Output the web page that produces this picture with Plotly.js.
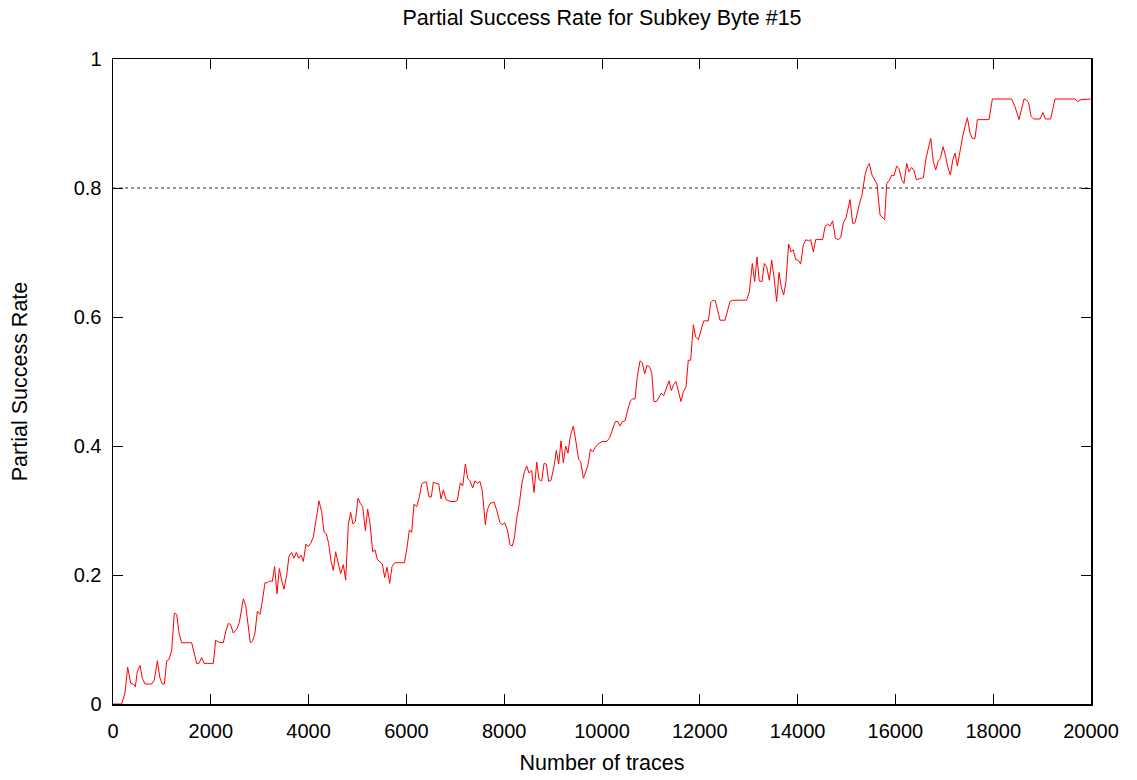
<!DOCTYPE html>
<html>
<head>
<meta charset="utf-8">
<script src="https://cdn.plot.ly/plotly-3.0.1.min.js"></script>
<style>html,body{margin:0;padding:0;background:#fff;}#chart{width:1137px;height:780px;}</style>
</head>
<body>
<div id="chart"></div>
<script>
const chartTitle = "Partial Success Rate for Subkey Byte #15";
const xTitle = "Number of traces";
const yTitle = "Partial Success Rate";
const threshold = 0.8;

const traces = [
0,177,245,300,362,415,457,497,552,600,654,791,845,907,961,1009,1050,1098,1145,1200,1254,1302,1350,1404,1609,1711,1759,1813,1861,2052,2100,2154,2256,2304,2358,2406,2460,2529,2583,2665,2713,2768,2808,2856,2904,2952,3006,3054,3108,3156,3211,
3258,3306,3354,3401,3449,3497,3552,3599,3654,3701,3749,3797,3845,3892,3947,3994,4042,4097,4151,4213,4267,4315,4362,4410,4458,4506,4553,4608,4656,4710,4758,4812,4860,4908,4956,5010,5058,5106,5161,5208,5256,5310,5358,5406,5460,5508,5556,5604,5658,5706,5760,5959,6006,6061,6108,6156,6211,6258,6313,6360,6408,6463,6510,6551,
6606,6660,6708,6755,6810,6892,6994,7042,7103,7151,7206,7253,7301,7356,7403,7451,7506,7553,7614,7655,7710,7792,7846,7914,7962,8010,8065,8119,8167,8208,8256,8310,8358,8413,8460,8508,8563,8610,8665,8712,8767,8815,8862,8910,8957,9019,9066,9114,9162,9209,9257,9305,9353,9414,9462,9523,9564,9619,9667,9721,9762,9810,9857,
9905,10001,10097,10152,10213,10274,10322,10369,10417,10471,10526,10580,10628,10675,10723,10778,10825,10873,10920,10968,11016,11063,11118,11166,11213,11261,11315,11370,11418,11465,11513,11568,11615,11663,11718,11765,11813,11868,11915,11970,12025,12080,12175,12223,12271,12318,12366,12414,12516,12564,12618,12673,12959,13013,
13074,13122,13170,13217,13272,13320,13367,13422,13470,13517,13572,13620,13667,13715,13763,13817,13865,13913,13960,14015,14063,14117,14172,14220,14267,14322,14370,14513,14561,14615,14663,14717,14772,14833,14881,14936,14991,15072,15127,15174,15222,15270,15317,15379,15426,15467,15522,15569,15624,15686,15733,15781,15822,15876,15924,15972,16026,16074,16129,16176,16231,16278,16333,16381,16428,
16497,16571,16626,16674,16722,16776,16824,16879,16920,16974,17022,17070,17124,17172,17219,17267,17322,17376,17424,17472,17526,17574,17628,17676,17914,17983,18379,18446,18528,18583,18630,18685,18726,18774,18829,18957,19019,19066,19175,19264,19673,19728,19795,20000
];

const successRate = [
0,0,0.017,0.057,0.032,0.031,0.027,0.05,0.06,0.04,0.031,0.031,0.037,0.067,0.04,0.031,0.031,0.067,0.069,0.083,0.141,0.139,0.11,0.095,0.095,0.063,0.063,0.072,0.063,0.063,0.099,0.096,0.095,0.112,0.125,0.123,0.11,0.116,0.126,0.163,0.153,0.12,0.095,0.098,0.11,0.144,0.139,0.159,0.188,0.188,0.191,
0.19,0.213,0.171,0.21,0.192,0.178,0.2,0.229,0.235,0.226,0.235,0.226,0.231,0.221,0.248,0.244,0.249,0.259,0.285,0.315,0.298,0.267,0.264,0.249,0.222,0.207,0.236,0.216,0.202,0.216,0.192,0.278,0.297,0.279,0.283,0.319,0.311,0.306,0.269,0.302,0.28,0.236,0.239,0.224,0.221,0.217,0.196,0.212,0.187,0.213,0.219,0.219,0.239,0.27,0.266,0.31,0.306,0.319,0.341,0.344,0.344,0.321,0.321,0.344,
0.342,0.341,0.318,0.332,0.317,0.314,0.314,0.316,0.343,0.338,0.372,0.35,0.346,0.335,0.346,0.342,0.345,0.33,0.278,0.301,0.311,0.313,0.301,0.281,0.278,0.281,0.27,0.247,0.245,0.257,0.288,0.311,0.34,0.36,0.369,0.358,0.362,0.328,0.375,0.348,0.346,0.373,0.372,0.345,0.347,0.368,0.393,0.372,0.408,0.374,0.4,0.389,0.416,0.431,0.409,0.379,0.376,0.35,0.36,0.373,0.395,0.391,0.397,
0.402,0.407,0.407,0.412,0.426,0.438,0.438,0.431,0.438,0.439,0.456,0.47,0.473,0.473,0.508,0.532,0.529,0.512,0.525,0.523,0.514,0.469,0.469,0.476,0.482,0.478,0.489,0.501,0.486,0.495,0.5,0.484,0.469,0.484,0.492,0.533,0.533,0.588,0.569,0.565,0.58,0.594,0.594,0.622,0.626,0.625,0.61,0.595,0.595,0.608,0.624,0.626,0.626,0.639,
0.683,0.655,0.693,0.656,0.655,0.683,0.678,0.657,0.688,0.662,0.624,0.669,0.646,0.634,0.655,0.713,0.701,0.704,0.689,0.688,0.682,0.712,0.72,0.718,0.72,0.701,0.72,0.72,0.74,0.744,0.741,0.749,0.722,0.72,0.723,0.746,0.754,0.782,0.745,0.746,0.763,0.777,0.789,0.82,0.833,0.838,0.82,0.813,0.806,0.758,0.754,0.751,0.807,0.812,0.82,0.819,0.834,0.83,0.813,0.807,0.838,0.825,0.832,0.827,0.813,
0.815,0.816,0.846,0.861,0.877,0.841,0.828,0.843,0.846,0.864,0.851,0.833,0.82,0.843,0.854,0.834,0.861,0.88,0.895,0.909,0.885,0.877,0.877,0.906,0.906,0.938,0.938,0.926,0.906,0.926,0.938,0.936,0.932,0.911,0.907,0.907,0.917,0.907,0.907,0.938,0.938,0.934,0.937,0.938
];

const xTickVals = [0,2000,4000,6000,8000,10000,12000,14000,16000,18000,20000];
const yTickVals = [0,0.2,0.4,0.6,0.8,1];
const yTickText = ["0","0.2","0.4","0.6","0.8","1"];

const fontFamily = "Liberation Sans, Arial, sans-serif";
const tickSize = 20;
const titleSize = 21.5;

const data = [{
  x: traces, y: successRate, type: "scatter", mode: "lines",
  line: {color: "#ff0000", width: 1}, hoverinfo: "x+y", showlegend: false
}];

const axisCommon = {
  showgrid: false, zeroline: false, showline: true, linecolor: "#000", linewidth: 1.5,
  mirror: "ticks", ticks: "inside", ticklen: 10, tickwidth: 1, tickcolor: "#000",
  tickfont: {family: fontFamily, size: tickSize, color: "#000"}
};

const layout = {
  width: 1137, height: 780,
  paper_bgcolor: "#fff", plot_bgcolor: "#fff",
  margin: {l: 113, r: 46, t: 59, b: 76},
  font: {family: fontFamily, color: "#000"},
  title: {text: chartTitle, font: {family: fontFamily, size: titleSize, color: "#000"},
          xref: "paper", x: 0.5, xanchor: "center", yref: "container", y: 0.977, yanchor: "middle"},
  xaxis: Object.assign({}, axisCommon, {
    range: [0, 20000], tickvals: xTickVals, ticktext: xTickVals.map(String),
    ticklabelstandoff: 8,
    title: {text: xTitle, font: {family: fontFamily, size: titleSize, color: "#000"}, standoff: 14}
  }),
  yaxis: Object.assign({}, axisCommon, {
    range: [0, 1], tickvals: yTickVals, ticktext: yTickText,
    ticklabelstandoff: 6,
    title: {text: yTitle, font: {family: fontFamily, size: titleSize, color: "#000"}, standoff: 40}
  }),
  shapes: [{
    type: "line", xref: "paper", x0: 0, x1: 1, yref: "y", y0: threshold, y1: threshold,
    line: {color: "#333", width: 1, dash: "dot"}, layer: "below"
  }]
};

Plotly.newPlot("chart", data, layout, {displayModeBar: false, staticPlot: true});
</script>
</body>
</html>
